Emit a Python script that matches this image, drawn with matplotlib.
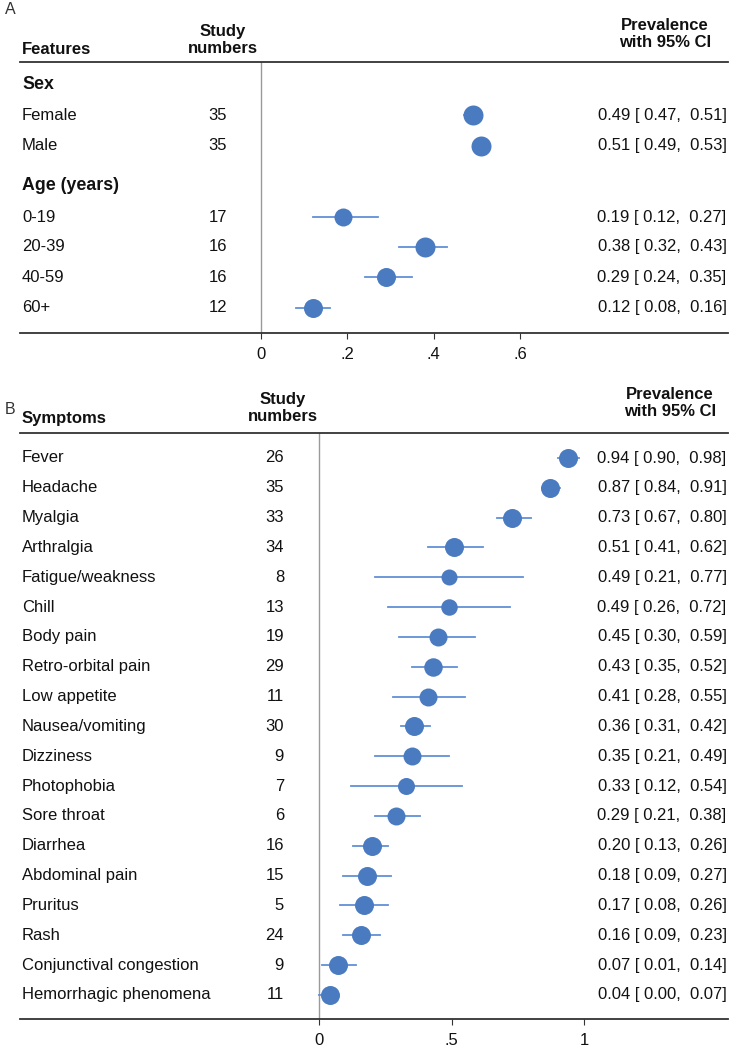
import matplotlib.pyplot as plt
import matplotlib.transforms as mtransforms

plt.rcParams['font.family'] = ['Liberation Sans', 'DejaVu Sans']

# Panel A data
feat_labels = ['Female', 'Male', '0-19', '20-39', '40-59', '60+']
feat_n = [35, 35, 17, 16, 16, 12]
feat_est = [0.49, 0.51, 0.19, 0.38, 0.29, 0.12]
feat_lo = [0.47, 0.49, 0.12, 0.32, 0.24, 0.08]
feat_hi = [0.51, 0.53, 0.27, 0.43, 0.35, 0.16]
feat_groups = ['Sex', 'Age (years)']

# Panel B data
sym_labels = ['Fever', 'Headache', 'Myalgia', 'Arthralgia', 'Fatigue/weakness',
              'Chill', 'Body pain', 'Retro-orbital pain', 'Low appetite',
              'Nausea/vomiting', 'Dizziness', 'Photophobia', 'Sore throat',
              'Diarrhea', 'Abdominal pain', 'Pruritus', 'Rash',
              'Conjunctival congestion', 'Hemorrhagic phenomena']
sym_n = [26, 35, 33, 34, 8, 13, 19, 29, 11, 30, 9, 7, 6, 16, 15, 5, 24, 9, 11]
sym_est = [0.94, 0.87, 0.73, 0.51, 0.49, 0.49, 0.45, 0.43, 0.41, 0.36, 0.35,
           0.33, 0.29, 0.20, 0.18, 0.17, 0.16, 0.07, 0.04]
sym_lo = [0.90, 0.84, 0.67, 0.41, 0.21, 0.26, 0.30, 0.35, 0.28, 0.31, 0.21,
          0.12, 0.21, 0.13, 0.09, 0.08, 0.09, 0.01, 0.00]
sym_hi = [0.98, 0.91, 0.80, 0.62, 0.77, 0.72, 0.59, 0.52, 0.55, 0.42, 0.49,
          0.54, 0.38, 0.26, 0.27, 0.26, 0.23, 0.14, 0.07]

# marker diameters (px), they follow the study weights
feat_msize = [20, 20, 18, 20, 19, 19]
sym_msize = [19, 19, 19, 19, 16, 16.5, 18, 18.5, 18, 19, 18, 17, 18, 19, 19,
             19, 19, 19, 19]

W, H = 736, 1049
DOT = '#4a7bc0'
CI = '#6190d6'
FS = 12

fig = plt.figure(figsize=(W / 100, H / 100), dpi=100)


def make_axes(top_px, bottom_px, zero_px, unit_px):
    ax = fig.add_axes([20 / W, 1 - bottom_px / H, 708 / W,
                       (bottom_px - top_px) / H])
    ax.set_xlim((20 - zero_px) / unit_px, (728 - zero_px) / unit_px)
    for s in ['left', 'right']:
        ax.spines[s].set_visible(False)
    ax.spines['top'].set_color('#333333')
    ax.spines['bottom'].set_color('#333333')
    ax.spines['top'].set_linewidth(1.3)
    ax.spines['bottom'].set_linewidth(1.3)
    ax.set_yticks([])
    ax.tick_params(axis='x', length=4, width=0.8, colors='#333333',
                   labelsize=FS, labelcolor='#111111', pad=6)
    ax.axvline(0, color='#9a9a9a', lw=1, zorder=1)
    return ax


def draw_rows(ax, ypos, labels, n, est, lo, hi, msize, n_x):
    trans = mtransforms.blended_transform_factory(ax.transAxes, ax.transData)
    for y, lab, k, m, l, h, ms in zip(ypos, labels, n, est, lo, hi, msize):
        ax.plot([l, h], [y, y], color=CI, lw=1.3, zorder=2)
        ax.plot(m, y, 'o', color=DOT, ms=ms * 0.72, mec='none', zorder=3)
        ax.text(0.003, y, lab, transform=trans, ha='left', va='center',
                fontsize=FS, color='#111111')
        ax.text(n_x, y, str(k), transform=trans, ha='right', va='center',
                fontsize=FS, color='#111111')
        ax.text(0.998, y, f'{m:.2f} [ {l:.2f},  {h:.2f}]', transform=trans,
                ha='right', va='center', fontsize=FS, color='#111111')


def header(x_px, y_px, s, ha='center'):
    fig.text(x_px / W, 1 - y_px / H, s, ha=ha, va='center', fontsize=12,
             fontweight='bold', color='#111111', linespacing=1.1)


# ---- Panel A ----
rowA = 30.5
axA = make_axes(62, 333, 261, 432)
ypos_a = [1.02, 2.03, 4.36, 5.34, 6.33, 7.34]
axA.set_ylim(8.16, (62 - 84) / rowA)
draw_rows(axA, ypos_a, feat_labels, feat_n, feat_est, feat_lo, feat_hi,
          feat_msize, (227 - 20) / 708)
transA = mtransforms.blended_transform_factory(axA.transAxes, axA.transData)
for y, g in zip([0, 3.34], feat_groups):
    axA.text(0.003, y, g, transform=transA, ha='left', va='center',
             fontsize=12.8, fontweight='bold', color='#111111')
axA.set_xticks([0, 0.2, 0.4, 0.6])
axA.set_xticklabels(['0', '.2', '.4', '.6'])

fig.text(5 / W, 1 - 9 / H, 'A', ha='left', va='center', fontsize=11.5,
         color='#333333')
header(22, 49, 'Features', ha='left')
header(223, 40, 'Study\nnumbers')
header(665, 34, 'Prevalence\nwith 95% CI')

# ---- Panel B ----
rowB = 29.83
axB = make_axes(433, 1019, 319, 265)
ypos_b = list(range(len(sym_labels)))
axB.set_ylim((1019 - 458) / rowB, (433 - 458) / rowB)
draw_rows(axB, ypos_b, sym_labels, sym_n, sym_est, sym_lo, sym_hi,
          sym_msize, (284 - 20) / 708)
axB.set_xticks([0, 0.5, 1])
axB.set_xticklabels(['0', '.5', '1'])

fig.text(5 / W, 1 - 410 / H, 'B', ha='left', va='center', fontsize=11.5,
         color='#333333')
header(22, 418, 'Symptoms', ha='left')
header(283, 408, 'Study\nnumbers')
header(670, 403, 'Prevalence\nwith 95% CI')

fig.savefig('out.png', dpi=100, facecolor='white')
